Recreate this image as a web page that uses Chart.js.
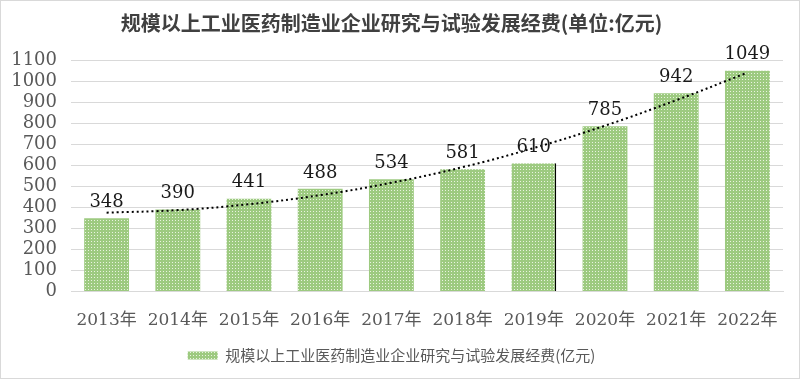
<!DOCTYPE html>
<html>
<head>
<meta charset="utf-8">
<script src="https://cdn.jsdelivr.net/npm/chart.js@4.4.0/dist/chart.umd.min.js"></script>
<style>
html, body { margin: 0; padding: 0; background: #fff; }
#wrap { width: 800px; height: 379px; position: relative; }
</style>
</head>
<body>
<div id="wrap"><canvas id="c"></canvas></div>
<script>
var years = ['2013年','2014年','2015年','2016年','2017年','2018年','2019年','2020年','2021年','2022年'];
var spend = [348, 390, 441, 488, 534, 581, 610, 785, 942, 1049];
// dotted trend line
var trend = [375, 387, 415, 458, 517, 591, 682, 788, 909, 1040];
var yTicks = [0,100,200,300,400,500,600,700,800,900,1000,1100];

var seriesName = '规模以上工业医药制造业企业研究与试验发展经费(亿元)';
var titleText = '规模以上工业医药制造业企业研究与试验发展经费(单位:亿元)';

// dotted green fill like the excel pattern
function makePattern() {
  var pc = document.createElement('canvas');
  pc.width = 3; pc.height = 3;
  var p = pc.getContext('2d');
  p.fillStyle = '#9dca80';
  p.fillRect(0, 0, 3, 3);
  p.fillStyle = '#e9f3e0';
  p.fillRect(1, 1, 1, 1);
  return p.createPattern(pc, 'repeat');
}
var ctx = document.getElementById('c').getContext('2d');
var green = makePattern();

var serif = '"DejaVu Serif", "Noto Sans CJK SC", serif';

var barLabels = {
  id: 'barLabels',
  afterDatasetsDraw: function(chart) {
    var meta = chart.getDatasetMeta(0);
    var c = chart.ctx;
    c.save();
    c.font = '18px ' + serif;
    c.fillStyle = '#1a1a1a';
    c.textAlign = 'center';
    c.textBaseline = 'bottom';
    meta.data.forEach(function(bar, i) {
      c.fillText(String(spend[i]), bar.x, bar.y - 7);
    });
    c.restore();
  }
};

var frame = {
  id: 'frame',
  afterDraw: function(chart) {
    var c = chart.ctx;
    c.save();
    c.strokeStyle = '#d9d9d9';
    c.lineWidth = 1;
    c.strokeRect(0.5, 0.5, chart.width - 1, chart.height - 1);
    c.restore();
  }
};

new Chart(ctx, {
  data: {
    labels: years,
    datasets: [
      {
        type: 'bar',
        label: seriesName,
        data: spend,
        backgroundColor: green,
        borderColor: '#000',
        borderWidth: function(c) {
          return c.dataIndex === 6 ? {top: 0, right: 1.5, bottom: 0, left: 0} : 0;
        },
        barPercentage: 0.63,
        categoryPercentage: 1,
        order: 2
      },
      {
        type: 'line',
        label: 'trend',
        data: trend,
        borderColor: '#000',
        borderWidth: 2,
        borderDash: [2, 3],
        pointRadius: 0,
        tension: 0.4,
        fill: false,
        order: 1
      }
    ]
  },
  options: {
    responsive: true,
    maintainAspectRatio: false,
    animation: false,
    layout: { padding: { left: 0, right: 17, top: 0, bottom: 6 } },
    plugins: {
      title: {
        display: true,
        text: titleText,
        color: '#404040',
        font: { family: '"Noto Sans CJK SC", sans-serif', size: 20, weight: 'bold' },
        padding: { top: 11, bottom: 25 }
      },
      legend: {
        position: 'bottom',
        labels: {
          filter: function(item) { return item.datasetIndex === 0; },
          boxWidth: 30,
          boxHeight: 8,
          color: '#595959',
          font: { family: '"Noto Sans CJK SC", sans-serif', size: 15 },
          padding: 6
        }
      },
      tooltip: { enabled: false }
    },
    scales: {
      x: {
        grid: { display: false },
        border: { color: '#d9d9d9' },
        ticks: { color: '#595959', font: { family: serif, size: 17 }, padding: 11 }
      },
      y: {
        min: 0,
        max: 1100,
        afterBuildTicks: function(axis) {
          axis.ticks = yTicks.map(function(v) { return { value: v }; });
        },
        afterFit: function(axis) { axis.width = 71; },
        grid: { color: '#d9d9d9', drawTicks: false },
        border: { display: false },
        ticks: {
          color: '#595959',
          font: { family: serif, size: 18 },
          padding: 14,
          autoSkip: false,
          callback: function(v) { return String(v); }
        }
      }
    }
  },
  plugins: [barLabels, frame]
});
</script>
</body>
</html>
